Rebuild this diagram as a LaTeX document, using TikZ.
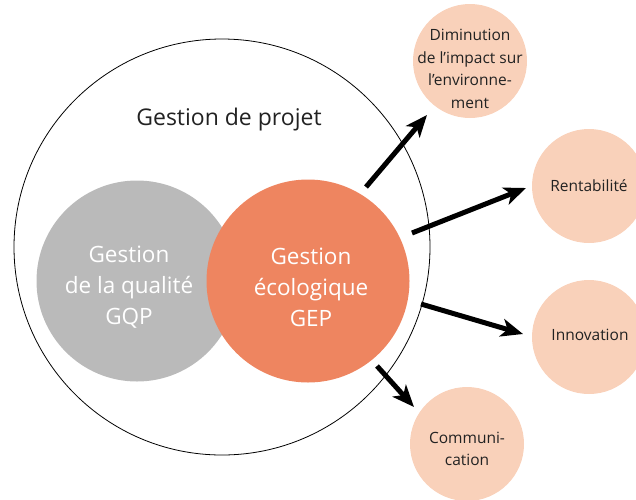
\documentclass[tikz,border=0pt]{standalone}
\usepackage{fontspec}
\setmainfont{Open Sans}
\usetikzlibrary{arrows.meta}
\definecolor{qualgray}{HTML}{BABABA}
\definecolor{ecoorange}{HTML}{EE8560}
\definecolor{peach}{HTML}{F9D1BA}
\definecolor{txtdark}{HTML}{222222}
\tikzset{
  bigtext/.style={text=white, align=center, font=\fontsize{22.5}{31}\selectfont},
  outcome/.style={circle, fill=peach, minimum size=114pt, inner sep=0pt},
  outtext/.style={text=txtdark, align=center, font=\fontsize{15.5}{22.5}\selectfont},
  thickarrow/.style={line width=5pt, -{Stealth[length=22pt,width=18pt,inset=6pt]}, black}
}
\begin{document}
\begin{tikzpicture}[x=1pt,y=-1pt]
\useasboundingbox (0,0) rectangle (636,499);
\clip (0,0) rectangle (636,499);
% project circle
\node[circle, draw=black, line width=0.8pt, minimum size=416pt, inner sep=0pt] (proj) at (222,247) {};
\node[font=\fontsize{23}{28}\selectfont, text=txtdark] (projlabel) at (229,120) {Gestion de projet};
% quality and ecological circles
\node[circle, fill=qualgray, minimum size=201pt, inner sep=0pt] (gqp) at (137,281) {};
\node[circle, fill=ecoorange, minimum size=203pt, inner sep=0pt] (gep) at (308,281) {};
\node[bigtext] (gqptext) at (129,287) {Gestion\\de la qualité\\GQP};
\node[bigtext] (geptext) at (311,287) {Gestion\\écologique\\GEP};
% outcomes
\node[outcome] (dim) at (470,61) {};
\node[outtext] (dimtext) at (470,69) {Diminution\\de l’impact sur\\l’environne-\\ment};
\node[outcome] (rent) at (589,186) {};
\node[outtext] (renttext) at (589,186) {Rentabilité};
\node[outcome] (inno) at (589,337) {};
\node[outtext] (innotext) at (590,335) {Innovation};
\node[outcome] (comm) at (467,444) {};
\node[outtext] (commtext) at (467,449) {Communi-\\cation};
% arrows
\coordinate (a1s) at (366,187); \coordinate (a1e) at (427,115);
\coordinate (a2s) at (412,233); \coordinate (a2e) at (526,188);
\coordinate (a3s) at (421,304); \coordinate (a3e) at (523,334);
\coordinate (a4s) at (377,366); \coordinate (a4e) at (414,407);
\draw[thickarrow] (a1s) -- (a1e);
\draw[thickarrow] (a2s) -- (a2e);
\draw[thickarrow] (a3s) -- (a3e);
\draw[thickarrow] (a4s) -- (a4e);
\end{tikzpicture}
\end{document}
